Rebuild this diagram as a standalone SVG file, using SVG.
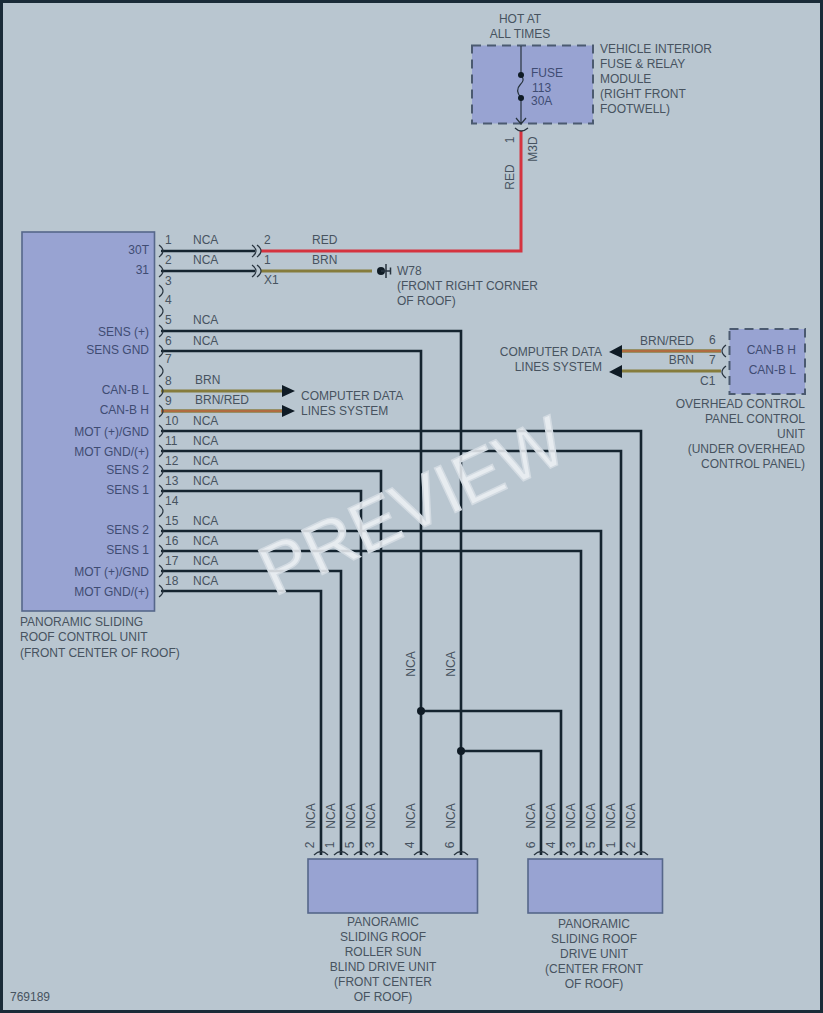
<svg xmlns="http://www.w3.org/2000/svg" xmlns:xlink="http://www.w3.org/1999/xlink" width="823" height="1013" viewBox="0 0 823 1013">
<style>
text{font-family:"Liberation Sans",Arial,sans-serif;font-size:12px;fill:#47535f}
.n{fill:#3f4c72}
.e{text-anchor:end}
.m{text-anchor:middle}
.box{fill:#98a3d2;stroke:#56678a;stroke-width:1.6}
.dash{fill:#98a3d2;stroke:#4b5a70;stroke-width:2;stroke-dasharray:9 6}
.w{fill:none;stroke:#15242f;stroke-width:2.6}
.pin{fill:none;stroke:#28343f;stroke-width:1.2}
.red{fill:none;stroke:#d5333f;stroke-width:3}
.brn{fill:none;stroke:#867c3c;stroke-width:3}
.br{fill:none;stroke:#8a7c45;stroke-width:3.4}
.br2{fill:none;stroke:#d65a3a;stroke-width:1.2}
.d{fill:#0f1b25}
</style>
<defs>
<path id="pr" class="pin" d="M-2-6Q6 0-2 6"/>
<path id="pl" class="pin" d="M3-6Q-5 0 3 6"/>
<path id="pd" class="pin" d="M-7 2Q0-5 7 2"/>
</defs>
<rect x="1.500" y="1.500" width="820" height="1010" fill="#b9c6d0" stroke="#1a2b38" stroke-width="3"/>

<g id="connectors">
<path class="w" d="M161 251H255M161 271H255"/>
<path class="red" d="M261 251H521V131"/>
<path class="brn" d="M261 271H372"/>
<path class="brn" d="M161 391H284"/>
<path class="br" d="M161 411H284"/><path class="br2" d="M161 411H284"/>
<path class="d" d="M282 385L295 391L282 397ZM282 405L295 411L282 417Z"/>
<path class="br" d="M621 351H721"/><path class="br2" d="M621 351H721"/>
<path class="brn" d="M621 371H721"/>
<path class="d" d="M622 345L609 352L622 358ZM622 365L609 372L622 378Z"/>
<path class="w" d="M161 331H461V855M161 351H421V855M161 431H641V855M161 451H621V855M161 471H381V855M161 491H361V855M161 531H601V855M161 551H581V855M161 571H341V855M161 591H321V855M421 711H561V855M461 751H541V855"/>
<circle class="d" cx="421" cy="711" r="4"/>
<circle class="d" cx="461" cy="751" r="4"/>
<g id="inline-x1">
<use xlink:href="#pr" href="#pr" x="254" y="251"/><use xlink:href="#pr" href="#pr" x="259" y="251"/>
<use xlink:href="#pr" href="#pr" x="254" y="271"/><use xlink:href="#pr" href="#pr" x="259" y="271"/>
<text x="264" y="244">2</text><text x="264" y="264">1</text><text x="264" y="284">X1</text>
</g>
<g id="wire-labels">
<text x="193" y="244">NCA</text><text x="193" y="264">NCA</text><text x="193" y="324">NCA</text><text x="193" y="345">NCA</text>
<text x="195" y="384">BRN</text><text x="195" y="404">BRN/RED</text>
<text x="193" y="425">NCA</text><text x="193" y="445">NCA</text><text x="193" y="465">NCA</text><text x="193" y="485">NCA</text>
<text x="193" y="525">NCA</text><text x="193" y="545">NCA</text><text x="193" y="565">NCA</text><text x="193" y="585">NCA</text>
<text x="312" y="244">RED</text><text x="312" y="264">BRN</text>
<text class="e" x="694" y="345">BRN/RED</text><text class="e" x="694" y="364">BRN</text>
<text class="m" transform="translate(415 664) rotate(-90)">NCA</text>
<text class="m" transform="translate(455 664) rotate(-90)">NCA</text>
<text class="m" transform="translate(514 177) rotate(-90)">RED</text>
</g>
</g>

<g id="fuse-module">
<rect class="dash" x="472" y="45.500" width="121" height="78"/>
<path class="pin" d="M521 46V75M521 98V124M516 118L521 124L526 118M521 75C524 79 524 81 520 85C516 89 517 93 521 98"/>
<circle class="d" cx="521" cy="75" r="3"/><circle class="d" cx="521" cy="98" r="3"/>
<text x="531" y="77" class="n">FUSE</text><text x="532" y="92" class="n">113</text><text x="531" y="105" class="n">30A</text>
<text class="m" x="520" y="23">HOT AT</text><text class="m" x="520" y="38">ALL TIMES</text>
<text x="600" y="53">VEHICLE INTERIOR</text><text x="600" y="68">FUSE &amp; RELAY</text><text x="600" y="83">MODULE</text><text x="600" y="98">(RIGHT FRONT</text><text x="600" y="113">FOOTWELL)</text>
<path class="pin" d="M515 128Q521 134 528 128"/>
<text class="m" transform="translate(514 140) rotate(-90)">1</text>
<text class="m" transform="translate(537 149) rotate(-90)">M3D</text>
</g>

<g id="control-unit">
<rect class="box" x="22" y="232" width="132.500" height="379"/>
<text class="n e" x="149" y="254">30T</text><text class="n e" x="149" y="274">31</text>
<text class="n e" x="149" y="336">SENS (+)</text><text class="n e" x="149" y="354">SENS GND</text>
<text class="n e" x="149" y="394">CAN-B L</text><text class="n e" x="149" y="414">CAN-B H</text>
<text class="n e" x="149" y="436">MOT (+)/GND</text><text class="n e" x="149" y="456">MOT GND/(+)</text>
<text class="n e" x="149" y="474">SENS 2</text><text class="n e" x="149" y="494">SENS 1</text>
<text class="n e" x="149" y="534">SENS 2</text><text class="n e" x="149" y="554">SENS 1</text>
<text class="n e" x="149" y="576">MOT (+)/GND</text><text class="n e" x="149" y="596">MOT GND/(+)</text>
<use xlink:href="#pr" href="#pr" x="161" y="251"/><use xlink:href="#pr" href="#pr" x="161" y="271"/><use xlink:href="#pr" href="#pr" x="161" y="291"/><use xlink:href="#pr" href="#pr" x="161" y="311"/><use xlink:href="#pr" href="#pr" x="161" y="331"/><use xlink:href="#pr" href="#pr" x="161" y="351"/><use xlink:href="#pr" href="#pr" x="161" y="371"/><use xlink:href="#pr" href="#pr" x="161" y="391"/><use xlink:href="#pr" href="#pr" x="161" y="411"/><use xlink:href="#pr" href="#pr" x="161" y="431"/><use xlink:href="#pr" href="#pr" x="161" y="451"/><use xlink:href="#pr" href="#pr" x="161" y="471"/><use xlink:href="#pr" href="#pr" x="161" y="491"/><use xlink:href="#pr" href="#pr" x="161" y="511"/><use xlink:href="#pr" href="#pr" x="161" y="531"/><use xlink:href="#pr" href="#pr" x="161" y="551"/><use xlink:href="#pr" href="#pr" x="161" y="571"/><use xlink:href="#pr" href="#pr" x="161" y="591"/>
<text x="165" y="244">1</text><text x="165" y="264">2</text><text x="165" y="285">3</text><text x="165" y="304">4</text><text x="165" y="324">5</text><text x="165" y="345">6</text><text x="165" y="363">7</text><text x="165" y="385">8</text><text x="165" y="405">9</text><text x="165" y="425">10</text><text x="165" y="445">11</text><text x="165" y="465">12</text><text x="165" y="485">13</text><text x="165" y="505">14</text><text x="165" y="525">15</text><text x="165" y="545">16</text><text x="165" y="565">17</text><text x="165" y="585">18</text>
<text x="20" y="626">PANORAMIC SLIDING</text><text x="20" y="641">ROOF CONTROL UNIT</text><text x="20" y="657">(FRONT CENTER OF ROOF)</text>
</g>

<g id="ground-w78">
<circle class="d" cx="381" cy="271" r="4"/>
<path class="pin" style="stroke-width:1.500" d="M381 271H390M386 264V278M390.500 267.500V274.500"/>
<text x="397" y="275">W78</text><text x="397" y="290">(FRONT RIGHT CORNER</text><text x="397" y="305">OF ROOF)</text>
</g>

<g id="data-lines-left">
<text x="301" y="400">COMPUTER DATA</text><text x="301" y="415">LINES SYSTEM</text>
</g>
<g id="data-lines-right">
<text class="e" x="602" y="356">COMPUTER DATA</text><text class="e" x="602" y="371">LINES SYSTEM</text>
</g>

<g id="overhead-panel">
<rect class="dash" x="729.500" y="329" width="75.500" height="65"/>
<use xlink:href="#pl" href="#pl" x="723" y="351"/><use xlink:href="#pl" href="#pl" x="723" y="372"/>
<text x="709" y="344">6</text><text x="709" y="364">7</text><text x="700" y="385">C1</text>
<text class="n e" x="796" y="354">CAN-B H</text><text class="n e" x="796" y="374">CAN-B L</text>
<text class="e" x="805" y="408">OVERHEAD CONTROL</text><text class="e" x="805" y="423">PANEL CONTROL</text><text class="e" x="805" y="438">UNIT</text><text class="e" x="805" y="453">(UNDER OVERHEAD</text><text class="e" x="805" y="468">CONTROL PANEL)</text>
</g>

<g id="sun-blind-drive">
<rect class="box" x="308" y="859" width="169.500" height="54"/>
<use xlink:href="#pd" href="#pd" x="321" y="853"/><use xlink:href="#pd" href="#pd" x="341" y="853"/><use xlink:href="#pd" href="#pd" x="361" y="853"/><use xlink:href="#pd" href="#pd" x="381" y="853"/><use xlink:href="#pd" href="#pd" x="421" y="853"/><use xlink:href="#pd" href="#pd" x="461" y="853"/>
<text class="m" transform="translate(315 816) rotate(-90)">NCA</text><text class="m" transform="translate(335 816) rotate(-90)">NCA</text><text class="m" transform="translate(355 816) rotate(-90)">NCA</text><text class="m" transform="translate(375 816) rotate(-90)">NCA</text><text class="m" transform="translate(415 816) rotate(-90)">NCA</text><text class="m" transform="translate(455 816) rotate(-90)">NCA</text>
<text class="m" transform="translate(314 845) rotate(-90)">2</text><text class="m" transform="translate(334 845) rotate(-90)">1</text><text class="m" transform="translate(354 845) rotate(-90)">5</text><text class="m" transform="translate(374 845) rotate(-90)">3</text><text class="m" transform="translate(414 845) rotate(-90)">4</text><text class="m" transform="translate(454 845) rotate(-90)">6</text>
<text class="m" x="383" y="926">PANORAMIC</text><text class="m" x="383" y="941">SLIDING ROOF</text><text class="m" x="383" y="956">ROLLER SUN</text><text class="m" x="383" y="971">BLIND DRIVE UNIT</text><text class="m" x="383" y="986">(FRONT CENTER</text><text class="m" x="383" y="1001">OF ROOF)</text>
</g>

<g id="center-drive">
<rect class="box" x="528" y="859" width="134.500" height="54"/>
<use xlink:href="#pd" href="#pd" x="541" y="853"/><use xlink:href="#pd" href="#pd" x="561" y="853"/><use xlink:href="#pd" href="#pd" x="581" y="853"/><use xlink:href="#pd" href="#pd" x="601" y="853"/><use xlink:href="#pd" href="#pd" x="621" y="853"/><use xlink:href="#pd" href="#pd" x="641" y="853"/>
<text class="m" transform="translate(535 816) rotate(-90)">NCA</text><text class="m" transform="translate(555 816) rotate(-90)">NCA</text><text class="m" transform="translate(575 816) rotate(-90)">NCA</text><text class="m" transform="translate(595 816) rotate(-90)">NCA</text><text class="m" transform="translate(615 816) rotate(-90)">NCA</text><text class="m" transform="translate(635 816) rotate(-90)">NCA</text>
<text class="m" transform="translate(535 845) rotate(-90)">6</text><text class="m" transform="translate(555 845) rotate(-90)">4</text><text class="m" transform="translate(575 845) rotate(-90)">3</text><text class="m" transform="translate(595 845) rotate(-90)">5</text><text class="m" transform="translate(615 845) rotate(-90)">1</text><text class="m" transform="translate(635 845) rotate(-90)">2</text>
<text class="m" x="594" y="928">PANORAMIC</text><text class="m" x="594" y="943">SLIDING ROOF</text><text class="m" x="594" y="958">DRIVE UNIT</text><text class="m" x="594" y="973">(CENTER FRONT</text><text class="m" x="594" y="988">OF ROOF)</text>
</g>

<text x="10" y="1001">769189</text>
<text transform="translate(274 597) rotate(-25)" style="font-size:71px;fill:#eef2f6;fill-opacity:.85;stroke:#d3dbe2;stroke-width:1.500">PREVIEW</text>
</svg>
